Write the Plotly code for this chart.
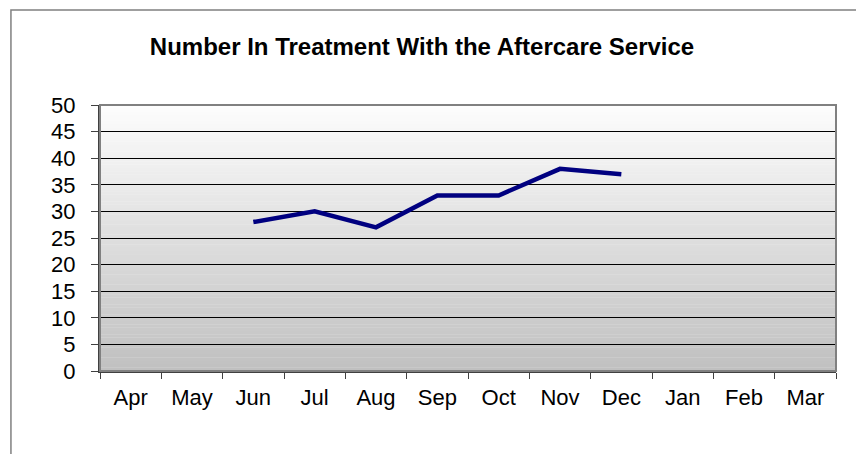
"""Line chart: number in treatment with the aftercare service."""

import plotly.graph_objects as go

months = ["Apr", "May", "Jun", "Jul", "Aug", "Sep", "Oct", "Nov", "Dec", "Jan", "Feb", "Mar"]
in_treatment = [None, None, 28, 30, 27, 33, 33, 38, 37, None, None, None]
y_ticks = list(range(0, 55, 5))

FONT = "Liberation Sans, Arial, sans-serif"


def _gradient_shapes(n=80, top=(253, 253, 253), bottom=(192, 192, 192)):
    """Vertical white-to-grey fill for the plot area, built from thin strips."""
    shapes = []
    for i in range(n):
        t = (i + 0.5) / n
        r, g, b = (round(top[k] + (bottom[k] - top[k]) * t) for k in range(3))
        shapes.append(
            dict(
                type="rect",
                xref="x domain",
                yref="y domain",
                x0=0,
                x1=1,
                y0=1 - (i + 1) / n,
                y1=1 - i / n + 0.001,
                fillcolor=f"rgb({r},{g},{b})",
                line=dict(width=0),
                layer="below",
            )
        )
    return shapes


fig = go.Figure(
    go.Scatter(
        x=months,
        y=in_treatment,
        mode="lines",
        line=dict(color="#000080", width=4.5),
        connectgaps=False,
        hoverinfo="x+y",
    )
)

shapes = _gradient_shapes()
# chart area frame (runs off the bottom and right of the picture)
shapes.append(
    dict(
        type="rect",
        xref="paper",
        yref="paper",
        x0=-0.121,
        x1=1.2,
        y0=-0.6,
        y1=1.357,
        line=dict(color="#808080", width=1.5),
        fillcolor="rgba(0,0,0,0)",
        layer="below",
    )
)
# plot area border on top and right
shapes.append(
    dict(
        type="rect",
        xref="x domain",
        yref="y domain",
        x0=0,
        x1=1,
        y0=0,
        y1=1,
        line=dict(color="#808080", width=2),
        fillcolor="rgba(0,0,0,0)",
        layer="above",
    )
)

fig.update_layout(
    width=856,
    height=454,
    margin=dict(l=100, r=20, t=105, b=83),
    paper_bgcolor="white",
    plot_bgcolor="rgba(0,0,0,0)",
    showlegend=False,
    font=dict(family=FONT, size=22, color="black"),
    title=dict(
        text="<b>Number In Treatment With the Aftercare Service</b>",
        font=dict(family=FONT, size=24, color="black"),
        xref="container",
        x=0.493,
        xanchor="center",
        yref="container",
        y=1 - 47 / 454,
        yanchor="middle",
    ),
    shapes=shapes,
)

fig.update_xaxes(
    type="category",
    categoryorder="array",
    categoryarray=months,
    range=[-0.5, len(months) - 0.5],
    showgrid=False,
    zeroline=False,
    showline=True,
    linecolor="#404040",
    linewidth=2,
    ticks="outside",
    tickson="boundaries",
    ticklen=6,
    tickcolor="#404040",
    tickwidth=1,
    ticklabelstandoff=6,
)

fig.update_yaxes(
    range=[0, 50],
    tickvals=y_ticks,
    showgrid=True,
    gridcolor="#000000",
    gridwidth=1,
    zeroline=False,
    showline=True,
    linecolor="#404040",
    linewidth=2,
    ticks="outside",
    ticklen=7,
    tickcolor="#404040",
    tickwidth=1,
    ticklabelstandoff=11,
)

# drop the browser's default 8px body margin so the figure sits at the top-left corner
fig.write_html(
    "out.html",
    config={"displayModeBar": False},
    post_script="document.body.style.margin = '0';",
)
